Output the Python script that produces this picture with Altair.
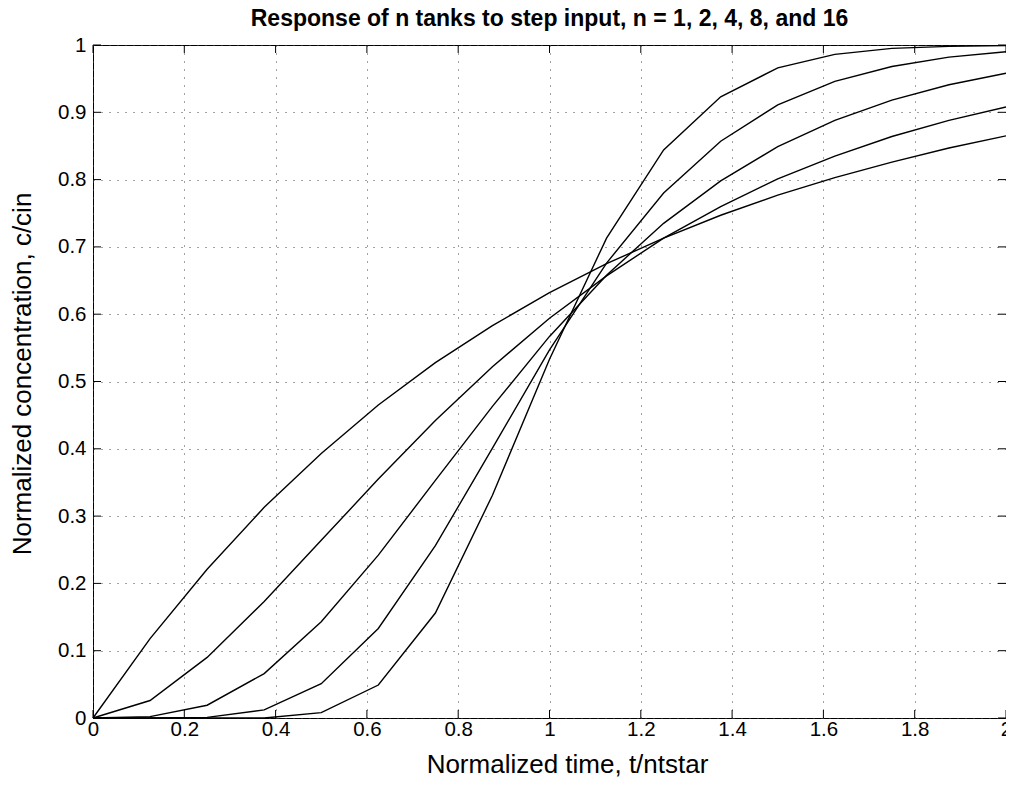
import altair as alt
import pandas as pd

# Normalized time points (t / n t*)
theta = [0, 0.125, 0.25, 0.375, 0.5, 0.625, 0.75, 0.875, 1.0,
         1.125, 1.25, 1.375, 1.5, 1.625, 1.75, 1.875, 2.0]

# Normalized concentration c/cin
n1 = [0, 0.118, 0.221, 0.313, 0.393, 0.465, 0.528, 0.583, 0.632,
      0.675, 0.713, 0.747, 0.777, 0.803, 0.826, 0.847, 0.865]
n2 = [0, 0.026, 0.090, 0.173, 0.264, 0.355, 0.442, 0.522, 0.594,
      0.657, 0.713, 0.760, 0.801, 0.835, 0.864, 0.888, 0.908]
n4 = [0, 0.002, 0.019, 0.066, 0.143, 0.242, 0.353, 0.463, 0.567,
      0.658, 0.735, 0.798, 0.849, 0.888, 0.918, 0.941, 0.958]
n8 = [0, 0.000, 0.001, 0.012, 0.051, 0.133, 0.256, 0.401, 0.547,
      0.676, 0.780, 0.857, 0.911, 0.946, 0.968, 0.982, 0.990]
n16 = [0, 0.000, 0.000, 0.000, 0.008, 0.049, 0.156, 0.331, 0.533,
       0.713, 0.844, 0.923, 0.966, 0.986, 0.995, 0.998, 0.999]
series_names = ["1", "2", "4", "8", "16"]

x_ticks = [0, 0.2, 0.4, 0.6, 0.8, 1.0, 1.2, 1.4, 1.6, 1.8, 2.0]
y_ticks = [0, 0.1, 0.2, 0.3, 0.4, 0.5, 0.6, 0.7, 0.8, 0.9, 1.0]

title_text = "Response of n tanks to step input, n = 1, 2, 4, 8, and 16"
x_title = "Normalized time, t/ntstar"
y_title = "Normalized concentration, c/cin"

rows = []
for name, vals in zip(series_names, [n1, n2, n4, n8, n16]):
    for t, v in zip(theta, vals):
        rows.append({"t": t, "c": v, "n": name})
df = pd.DataFrame(rows)
xt = pd.DataFrame({"t": x_ticks})
yt = pd.DataFrame({"c": y_ticks})

W, H = 913, 673
FONT = "Liberation Sans"
xscale = alt.Scale(domain=[0, 2], nice=False, zero=False)
yscale = alt.Scale(domain=[0, 1], nice=False, zero=False)

xaxis = alt.Axis(values=x_ticks, format="~g", title=x_title, grid=True,
                 ticks=False, tickSize=0, domain=False, labelFlush=False,
                 labelOverlap=False, labelFontSize=20.5, labelPadding=1,
                 labelColor="black", titleFontSize=26, titleFontWeight="normal",
                 titleColor="black", titleBaseline="alphabetic", titleY=54,
                 titleX=474, titleAlign="center")
yaxis = alt.Axis(values=y_ticks, format="~g", title=y_title, grid=True,
                 ticks=False, tickSize=0, domain=False, labelOverlap=False,
                 labelFontSize=20.5, labelPadding=7, labelColor="black",
                 titleFontSize=26, titleFontWeight="normal", titleColor="black",
                 titleAngle=270, titleBaseline="bottom", titleAlign="center",
                 titleX=-58, titleY=H / 2 - 8)

X = alt.X("t:Q", scale=xscale, axis=xaxis)
Y = alt.Y("c:Q", scale=yscale, axis=yaxis)

lines = alt.Chart(df).mark_line(color="black", strokeWidth=1.4).encode(
    x=X, y=Y, detail="n:N", order="t:Q",
)

tick_style = dict(color="black", strokeWidth=1)
top_ticks = alt.Chart(xt).mark_rule(**tick_style).encode(
    x=X, y=alt.value(0), y2=alt.value(8))
bottom_ticks = alt.Chart(xt).mark_rule(**tick_style).encode(
    x=X, y=alt.value(H - 8), y2=alt.value(H))
left_ticks = alt.Chart(yt).mark_rule(**tick_style).encode(
    y=Y, x=alt.value(0), x2=alt.value(8))
right_ticks = alt.Chart(yt).mark_rule(**tick_style).encode(
    y=Y, x=alt.value(W - 8), x2=alt.value(W))

chart = alt.layer(lines, top_ticks, bottom_ticks, left_ticks, right_ticks).properties(
    width=W, height=H,
    title=alt.TitleParams(title_text, fontSize=23, fontWeight="bold", font=FONT,
                          color="black", anchor="middle", frame="group",
                          baseline="alphabetic", offset=-14),
    autosize=alt.AutoSizeParams(type="none"),
    padding={"left": 85, "top": 37, "right": 0, "bottom": 60},
).configure(
    font=FONT, background="white"
).configure_view(
    stroke="black", strokeWidth=1
).configure_axis(
    gridColor="#444", gridDash=[1, 7], gridWidth=1, gridOpacity=1,
    labelFont=FONT, titleFont=FONT,
)

chart.save("out.html", embed_options={"renderer": "svg", "actions": False})
